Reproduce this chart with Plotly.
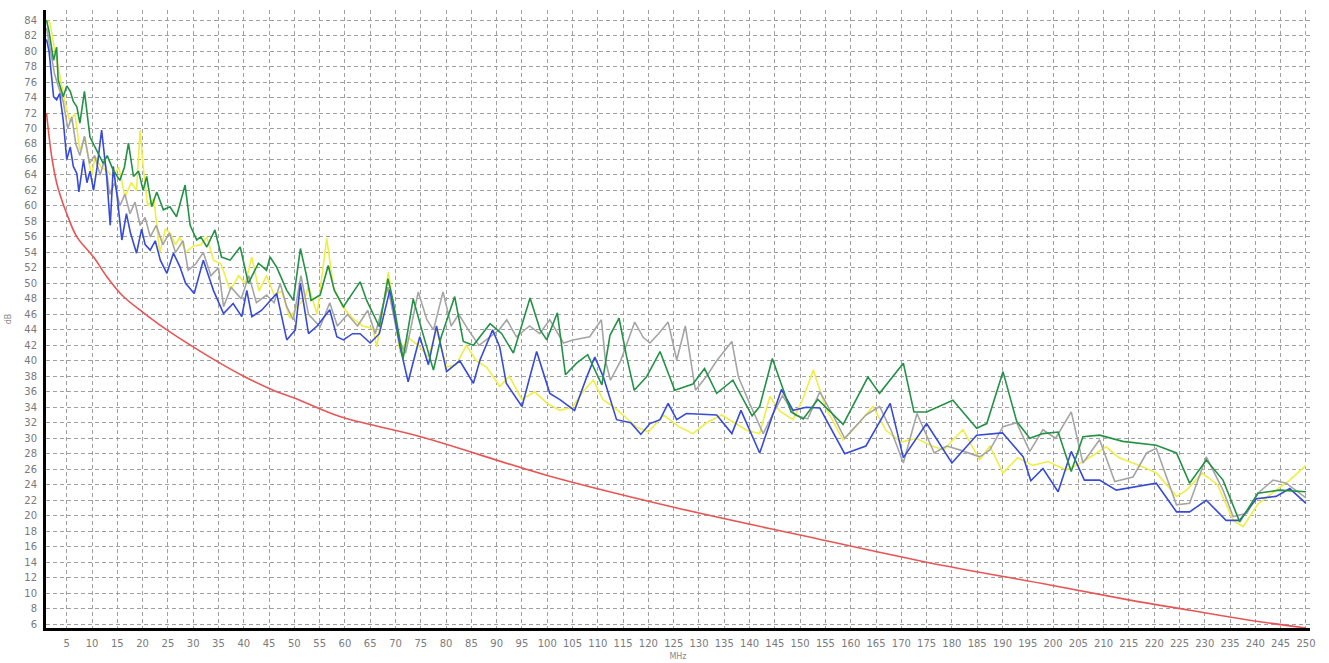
import plotly.graph_objects as go

# ---------------- data (MHz, dB) ----------------
green_f = [1.0, 1.5, 2.4, 3.0, 3.3, 4.3, 5.0, 5.7, 6.3, 7.0, 7.6, 8.5, 9.6, 10.9, 12.2, 13.0, 14.2, 15.5, 16.4, 17.2,
           18.2, 19.2, 20.1, 20.8, 21.8, 22.8, 24.1, 25.4, 26.7, 28.4, 29.4, 30.7, 31.5, 32.7, 34.3, 35.6, 37.3, 39.3,
           40.9, 42.9, 44.5, 45.2, 46.5, 48.5, 49.8, 51.2, 52.4, 53.3, 55.1, 56.7, 57.9, 59.7, 63.0, 64.3, 66.8, 68.5,
           69.5, 71.5, 73.5, 75.2, 77.5, 79.0, 81.7, 83.4, 85.4, 88.7, 91.0, 93.3, 96.6, 98.6, 99.9, 102.0, 103.6,
           105.8, 108.0, 110.8, 112.4, 114.2, 115.7, 117.2, 119.6, 122.3, 125.2, 128.8, 131.1, 133.5, 136.7, 140.5,
           142.0, 144.5, 148.2, 150.6, 153.5, 158.5, 163.4, 165.7, 170.4, 172.5, 175.0, 180.2, 184.9, 186.9, 190.1,
           192.8, 195.4, 198.0, 201.0, 203.6, 205.9, 209.2, 213.8, 220.4, 224.4, 227.0, 230.3, 233.6, 236.9, 240.5,
           244.8, 250.0]
green_v = [84.0, 82.5, 78.8, 80.5, 76.3, 74.1, 75.5, 74.8, 73.5, 72.8, 70.7, 74.8, 68.9, 67.2, 65.5, 66.5, 64.6, 63.3,
           65.0, 68.1, 63.8, 64.5, 62.0, 63.8, 59.9, 61.8, 59.5, 59.9, 58.6, 62.7, 57.5, 55.6, 56.0, 54.7, 56.9, 53.4,
           53.0, 54.7, 50.0, 52.6, 51.7, 53.4, 52.1, 49.1, 47.8, 54.5, 51.0, 47.8, 48.5, 52.3, 49.1, 47.0, 50.2, 47.8,
           44.4, 50.6, 47.8, 40.3, 48.0, 44.0, 38.8, 43.0, 48.3, 42.5, 42.0, 44.8, 43.5, 41.0, 48.1, 44.0, 42.7, 46.2,
           38.2, 39.7, 40.8, 36.9, 43.3, 45.5, 40.5, 36.2, 37.9, 41.2, 36.2, 37.0, 39.0, 35.8, 37.5, 32.9, 34.1, 40.3,
           33.4, 32.5, 35.0, 31.8, 37.9, 35.8, 39.7, 33.4, 33.4, 34.9, 31.3, 31.9, 38.6, 32.2, 30.0, 30.6, 30.8, 25.7,
           30.2, 30.4, 29.6, 29.1, 28.1, 24.2, 27.2, 24.6, 19.2, 22.9, 23.3, 23.1]

blue_f = [1.0, 1.5, 2.4, 3.0, 3.6, 4.3, 5.0, 5.7, 6.3, 7.0, 7.4, 8.3, 9.0, 9.6, 10.3, 11.0, 11.9, 12.9, 13.6, 14.2,
          14.9, 15.9, 16.8, 17.6, 18.8, 19.8, 20.5, 21.5, 22.5, 23.5, 24.8, 26.1, 27.4, 28.5, 30.2, 32.0, 34.0, 36.0,
          37.9, 39.6, 40.6, 41.6, 43.5, 45.2, 46.5, 48.5, 50.2, 51.2, 52.8, 54.5, 57.0, 58.4, 59.7, 61.5, 63.0, 65.0,
          66.8, 68.9, 70.9, 72.5, 74.8, 76.5, 78.1, 80.1, 82.7, 85.4, 86.7, 89.2, 90.6, 91.9, 95.0, 97.9, 100.5,
          102.5, 105.4, 107.8, 109.4, 111.1, 113.7, 116.5, 118.5, 120.3, 122.3, 123.9, 125.6, 127.5, 133.5, 136.5,
          138.3, 142.0, 146.3, 148.6, 151.2, 153.9, 158.8, 163.0, 167.8, 170.4, 175.0, 180.0, 184.9, 190.0, 194.1,
          195.6, 198.0, 201.0, 203.6, 206.2, 209.2, 212.5, 215.8, 220.4, 224.4, 227.0, 230.3, 234.2, 236.9, 240.2,
          244.1, 246.8, 250.0]
blue_v = [81.5, 80.0, 74.1, 73.7, 74.5, 71.1, 66.0, 67.6, 65.1, 64.2, 61.8, 65.9, 63.0, 64.5, 62.0, 65.0, 69.8, 63.8,
          57.5, 65.1, 61.6, 55.6, 59.0, 56.5, 53.9, 57.0, 55.0, 54.3, 55.5, 53.0, 51.3, 53.9, 52.1, 50.0, 48.7, 53.0,
          49.1, 46.1, 47.4, 45.7, 49.1, 45.7, 46.5, 47.8, 48.7, 42.7, 44.0, 50.0, 43.5, 44.5, 46.6, 43.1, 42.7, 43.5,
          43.5, 42.3, 43.5, 49.2, 41.8, 37.3, 43.1, 39.5, 44.5, 38.6, 40.0, 37.1, 40.1, 44.0, 41.8, 37.1, 34.1, 41.2,
          35.8, 35.0, 33.6, 37.9, 40.5, 37.9, 32.4, 32.0, 30.5, 31.9, 32.4, 34.5, 32.4, 33.2, 33.0, 30.6, 33.6, 28.1,
          36.3, 33.6, 34.0, 33.9, 28.0, 29.0, 34.5, 27.5, 31.9, 26.8, 30.4, 30.7, 27.6, 24.5, 26.1, 23.1, 28.3, 24.6,
          24.6, 23.3, 23.7, 24.2, 20.5, 20.5, 22.0, 19.4, 19.4, 22.2, 22.5, 23.5, 21.6]

gray_f = [1.0, 1.8, 2.6, 3.3, 4.3, 5.2, 6.0, 6.8, 7.6, 8.5, 9.5, 10.5, 11.6, 12.5, 13.5, 14.5, 15.5, 16.5, 17.5, 18.5,
          19.5, 20.5, 21.5, 22.7, 24.0, 25.3, 26.5, 28.0, 29.0, 30.5, 32.0, 33.5, 35.0, 36.0, 37.5, 39.5, 41.0, 42.5,
          44.5, 46.0, 47.2, 48.5, 49.8, 51.3, 52.8, 55.1, 57.0, 58.5, 60.5, 62.5, 64.5, 66.0, 68.5, 70.5, 72.0, 74.5,
          76.2, 77.5, 79.4, 81.0, 82.5, 84.4, 86.5, 88.5, 90.5, 92.0, 93.9, 96.5, 98.5, 100.5, 103.2, 105.1, 108.4,
          110.7, 111.5, 112.5, 114.5, 117.3, 119.0, 120.3, 122.0, 123.9, 125.6, 127.3, 129.3, 131.5, 133.5, 136.5,
          137.8, 140.0, 142.7, 144.5, 146.5, 149.0, 151.5, 153.9, 156.5, 158.8, 161.0, 163.0, 165.7, 168.0, 170.4,
          173.1, 176.5, 179.0, 181.5, 185.5, 187.5, 190.1, 192.8, 195.4, 198.0, 200.5, 203.6, 205.9, 209.2, 212.2,
          215.8, 218.5, 220.4, 224.4, 227.0, 230.3, 233.6, 235.6, 238.3, 240.5, 243.5, 246.1, 250.0]
gray_v = [83.0, 80.0, 77.0, 75.5, 73.5, 70.0, 71.5, 68.0, 66.5, 69.0, 65.5, 66.5, 64.0, 66.0, 61.5, 63.0, 60.0, 61.5,
          59.0, 60.5, 57.5, 58.5, 56.0, 57.5, 55.0, 56.5, 54.0, 55.5, 51.7, 52.5, 54.0, 51.0, 52.0, 47.0, 49.5, 48.0,
          51.0, 47.5, 48.5, 47.5, 50.0, 47.0, 45.3, 51.0, 46.0, 44.4, 47.5, 44.5, 46.0, 44.5, 46.5, 43.5, 49.5, 43.0,
          41.0, 48.9, 45.3, 44.0, 48.9, 44.5, 46.0, 44.0, 42.0, 43.0, 44.0, 45.3, 43.1, 44.5, 43.5, 45.3, 42.3, 42.7,
          43.1, 45.3, 40.0, 37.5, 40.0, 45.0, 43.0, 42.3, 43.5, 45.0, 40.1, 44.5, 36.2, 38.0, 40.0, 42.5, 37.9, 34.5,
          30.6, 33.0, 35.5, 33.0, 32.5, 36.0, 33.0, 30.0, 31.5, 33.0, 34.1, 31.0, 26.8, 33.2, 28.1, 29.0, 28.5, 27.6,
          28.5, 31.5, 32.0, 28.3, 31.1, 30.0, 33.4, 26.8, 29.8, 24.4, 25.0, 28.1, 28.7, 21.4, 21.6, 27.6, 23.3, 19.9,
          20.3, 22.9, 24.6, 24.2, 22.3]

yellow_f = [1.0, 1.7, 2.4, 3.0, 3.7, 4.7, 5.7, 6.6, 7.6, 8.6, 9.9, 10.6, 11.8, 12.9, 14.2, 15.3, 16.5, 17.8, 18.8, 19.5,
            20.1, 21.0, 22.2, 23.4, 24.5, 25.4, 26.5, 27.4, 28.5, 30.0, 31.5, 32.7, 34.0, 35.5, 37.3, 39.0, 40.3, 41.6,
            43.0, 44.5, 46.0, 47.5, 49.1, 50.5, 52.0, 52.8, 54.5, 56.4, 57.7, 59.5, 61.5, 63.5, 65.5, 66.3, 68.6, 70.9,
            72.5, 74.5, 76.5, 78.1, 80.1, 82.0, 84.0, 86.0, 88.0, 90.6, 92.5, 95.0, 97.5, 100.0, 102.5, 105.0, 107.0,
            109.1, 111.0, 113.0, 115.0, 117.5, 120.0, 123.0, 126.0, 128.8, 131.5, 134.5, 137.0, 139.5, 142.0, 144.0,
            146.0, 148.6, 150.5, 152.6, 155.0, 158.5, 161.0, 164.4, 167.0, 170.0, 173.0, 176.0, 178.5, 180.2, 182.2,
            185.5, 187.5, 190.1, 193.0, 196.0, 199.0, 202.6, 206.0, 210.5, 213.0, 217.8, 220.5, 224.4, 226.4, 229.5,
            232.5, 235.6, 237.6, 240.5, 243.5, 246.8, 250.0]
yellow_v = [84.0, 83.6, 81.0, 79.0, 76.7, 73.2, 70.7, 72.0, 67.2, 68.9, 63.8, 66.4, 65.0, 64.6, 63.8, 65.0, 61.2, 63.0,
            62.0, 69.8, 65.1, 60.0, 61.0, 53.9, 57.0, 56.5, 55.0, 56.0, 54.0, 54.8, 55.0, 56.0, 53.0, 52.5, 49.1, 51.0,
            50.0, 53.4, 49.0, 51.0, 48.5, 49.0, 45.5, 47.0, 48.0, 49.6, 46.0, 55.8, 49.6, 47.0, 45.5, 44.5, 44.2, 41.8,
            51.5, 41.0, 43.0, 42.0, 40.5, 44.0, 39.2, 39.5, 42.0, 40.0, 39.2, 36.7, 38.0, 35.0, 36.0, 34.5, 33.6, 34.0,
            36.0, 37.5, 35.0, 34.1, 33.0, 31.5, 30.8, 33.0, 31.5, 30.6, 32.0, 33.0, 32.0, 31.0, 30.6, 35.4, 33.5, 32.4,
            35.0, 38.8, 34.0, 29.8, 31.5, 34.1, 31.0, 29.5, 30.0, 29.0, 28.5, 29.8, 31.1, 27.2, 29.0, 25.5, 27.5, 26.5,
            27.0, 25.9, 27.0, 28.9, 27.5, 26.3, 25.5, 22.5, 23.3, 25.5, 24.0, 19.4, 18.6, 21.5, 23.0, 24.6, 26.5]

red_f = [1.0, 2.0, 3.0, 4.0, 5.0, 7.0, 10.3, 13.0, 16.2, 20.0, 24.8, 30.0, 35.3, 40.0, 45.8, 50.0, 59.0, 75.0, 100.0,
         125.0, 150.0, 175.0, 199.4, 215.2, 227.0, 238.9, 250.0]
red_v = [72.0, 66.5, 63.0, 60.8, 59.0, 56.0, 53.4, 50.8, 48.3, 46.3, 44.0, 41.8, 39.7, 38.0, 36.2, 35.2, 32.8, 30.2,
         25.2, 21.1, 17.5, 14.0, 11.05, 9.1, 7.8, 6.5, 5.5]

x_ticks = list(range(5, 251, 5))
y_ticks = list(range(6, 85, 2))

# ---------------- figure ----------------
fig = go.Figure()
series = [
    (yellow_f, yellow_v, "rgb(238,238,70)", "linear"),
    (gray_f, gray_v, "rgb(165,165,165)", "linear"),
    (blue_f, blue_v, "rgb(55,75,215)", "linear"),
    (green_f, green_v, "rgb(35,145,70)", "linear"),
    (red_f, red_v, "rgb(232,85,85)", "spline"),
]
for fx, vy, col, shape in series:
    fig.add_trace(go.Scatter(x=fx, y=vy, mode="lines",
                             line=dict(color=col, width=1.6, shape=shape),
                             showlegend=False, hoverinfo="skip"))

axis_font = dict(family="DejaVu Sans, Arial", size=10, color="#7a7a7a")
title_font = dict(family="DejaVu Sans, Arial", size=8, color="#8a8a8a")
fig.update_layout(
    width=1329, height=663,
    margin=dict(l=46, r=19, t=10, b=35),
    paper_bgcolor="white", plot_bgcolor="white",
    font=axis_font,
    xaxis=dict(range=[0.9, 250.8], tickvals=x_ticks, ticktext=[str(t) for t in x_ticks],
               showgrid=True, gridcolor="#a0a0a0", gridwidth=1, griddash="4px,3px",
               showline=True, linecolor="black", linewidth=3, mirror=False,
               ticks="", zeroline=False, tickfont=axis_font, ticklabelstandoff=4,
               automargin=False,
               title=dict(text="MHz", font=title_font, standoff=6)),
    yaxis=dict(range=[5.5, 85.3], tickvals=y_ticks, ticktext=[str(t) for t in y_ticks],
               showgrid=True, gridcolor="#a0a0a0", gridwidth=1, griddash="4px,3px",
               showline=True, linecolor="black", linewidth=3, mirror=False,
               ticks="", zeroline=False, tickfont=axis_font, ticklabelstandoff=4,
               automargin=False,
               title=dict(text="dB", font=title_font, standoff=12)),
)

fig.write_html("out.html")
